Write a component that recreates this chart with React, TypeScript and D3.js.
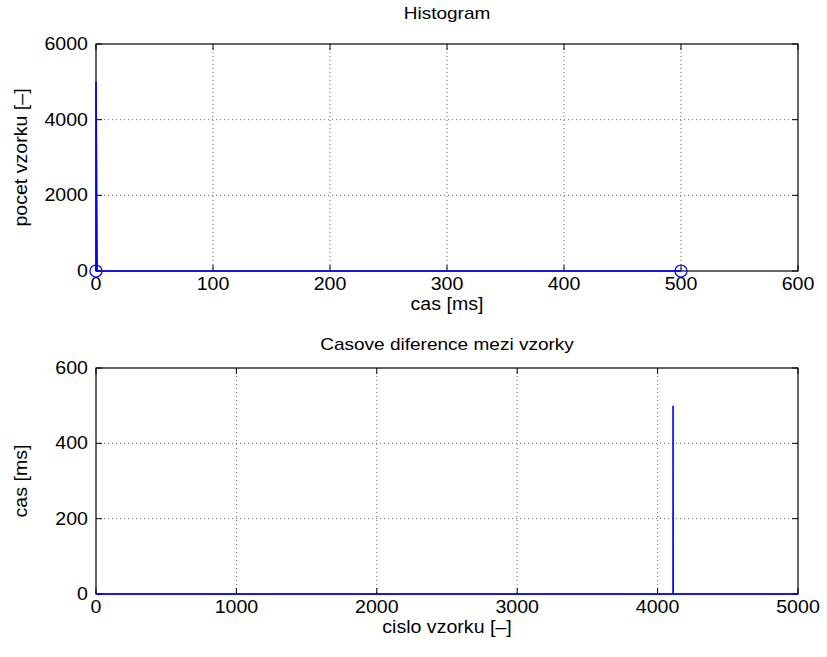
import React from "react";
import * as d3 from "d3";

// Histogram data (bin centre [ms], count)
const histX = [0, 0, 1, 500];
const histY = [0, 4999, 0, 0];
const histMarkersX = [0, 500];
const histMarkersY = [0, 0];
const histXTicks = [0, 100, 200, 300, 400, 500, 600];
const histYTicks = [0, 2000, 4000, 6000];

// Time differences between samples
const diffX = [0, 4110, 4110, 4111, 5000];
const diffY = [0, 0, 500, 0, 0];
const diffXTicks = [0, 1000, 2000, 3000, 4000, 5000];
const diffYTicks = [0, 200, 400, 600];

const W = 827;
const H = 657;
const L = 96;
const R = 798;
const FONT = "'Liberation Sans', Arial, Helvetica, sans-serif";
const FS = 17.5;
const SX = 1.12;

function Txt({ x, y, anchor, rotate, size, children }: { x: number; y: number; anchor: string; rotate?: number; size?: number; children: React.ReactNode }) {
  const tr = `translate(${x},${y})${rotate ? ` rotate(${rotate})` : ""} scale(${SX},1)`;
  return (
    <text transform={tr} textAnchor={anchor} fontSize={size ?? FS} fontFamily={FONT} fill="#000">
      {children}
    </text>
  );
}

type PanelProps = {
  top: number;
  bottom: number;
  titleGap: number;
  xDomain: [number, number];
  yDomain: [number, number];
  xTicks: number[];
  yTicks: number[];
  title: string;
  xLabel: string;
  yLabel: string;
  children: (x: d3.ScaleLinear<number, number>, y: d3.ScaleLinear<number, number>) => React.ReactNode;
};

function Panel({ top, bottom, titleGap, xDomain, yDomain, xTicks, yTicks, title, xLabel, yLabel, children }: PanelProps) {
  const x = d3.scaleLinear().domain(xDomain).range([L, R]);
  const y = d3.scaleLinear().domain(yDomain).range([bottom, top]);
  const tl = 6;
  return (
    <g>
      <rect x={L} y={top} width={R - L} height={bottom - top} fill="#fff" />
      {xTicks.map((t, i) => (
        <g key={"gx" + i}>
          {i > 0 && i < xTicks.length - 1 && (
            <line x1={x(t)} x2={x(t)} y1={top} y2={bottom} stroke="#000" strokeWidth={0.6} strokeDasharray="1,3" />
          )}
          <line x1={x(t)} x2={x(t)} y1={bottom} y2={bottom - tl} stroke="#000" strokeWidth={1} />
          <line x1={x(t)} x2={x(t)} y1={top} y2={top + tl} stroke="#000" strokeWidth={1} />
          <Txt x={x(t)} y={bottom + 19} anchor="middle">{t}</Txt>
        </g>
      ))}
      {yTicks.map((t, i) => (
        <g key={"gy" + i}>
          {i > 0 && i < yTicks.length - 1 && (
            <line x1={L} x2={R} y1={y(t)} y2={y(t)} stroke="#000" strokeWidth={0.6} strokeDasharray="1,3" />
          )}
          <line x1={L} x2={L + tl} y1={y(t)} y2={y(t)} stroke="#000" strokeWidth={1} />
          <line x1={R} x2={R - tl} y1={y(t)} y2={y(t)} stroke="#000" strokeWidth={1} />
          <Txt x={L - 8} y={y(t) + 6} anchor="end">{t}</Txt>
        </g>
      ))}
      <rect x={L} y={top} width={R - L} height={bottom - top} fill="none" stroke="#000" strokeWidth={1.2} />
      {children(x, y)}
      <Txt x={(L + R) / 2} y={top - titleGap} anchor="middle" size={17}>{title}</Txt>
      <Txt x={(L + R) / 2} y={bottom + 39} anchor="middle">{xLabel}</Txt>
      <Txt x={27} y={(top + bottom) / 2} anchor="middle" rotate={-90}>{yLabel}</Txt>
    </g>
  );
}

export default function App() {
  return (
    <svg width={W} height={H} style={{ position: "absolute", left: 0, top: 0, background: "#fff" }}>
      <rect width={W} height={H} fill="#fff" />
      <Panel top={44} bottom={271} titleGap={25} xDomain={[0, 600]} yDomain={[0, 6000]} xTicks={histXTicks} yTicks={histYTicks}
        title="Histogram" xLabel="cas [ms]" yLabel="pocet vzorku [–]">
        {(x, y) => {
          const line = d3.line<number>().x((_, i) => x(histX[i])).y((d) => y(d));
          return (
            <g>
              <path d={line(histY) || ""} fill="none" stroke="#0000ff" strokeWidth={1.6} />
              {histMarkersX.map((mx, i) => (
                <circle key={i} cx={x(mx)} cy={y(histMarkersY[i])} r={6} fill="none" stroke="#0000ff" strokeWidth={1.2} />
              ))}
            </g>
          );
        }}
      </Panel>
      <Panel top={368} bottom={594} titleGap={18} xDomain={[0, 5000]} yDomain={[0, 600]} xTicks={diffXTicks} yTicks={diffYTicks}
        title="Casove diference mezi vzorky" xLabel="cislo vzorku [–]" yLabel="cas [ms]">
        {(x, y) => {
          const line = d3.line<number>().x((_, i) => x(diffX[i])).y((d) => y(d));
          return <path d={line(diffY) || ""} fill="none" stroke="#0000ff" strokeWidth={1.6} />;
        }}
      </Panel>
    </svg>
  );
}
